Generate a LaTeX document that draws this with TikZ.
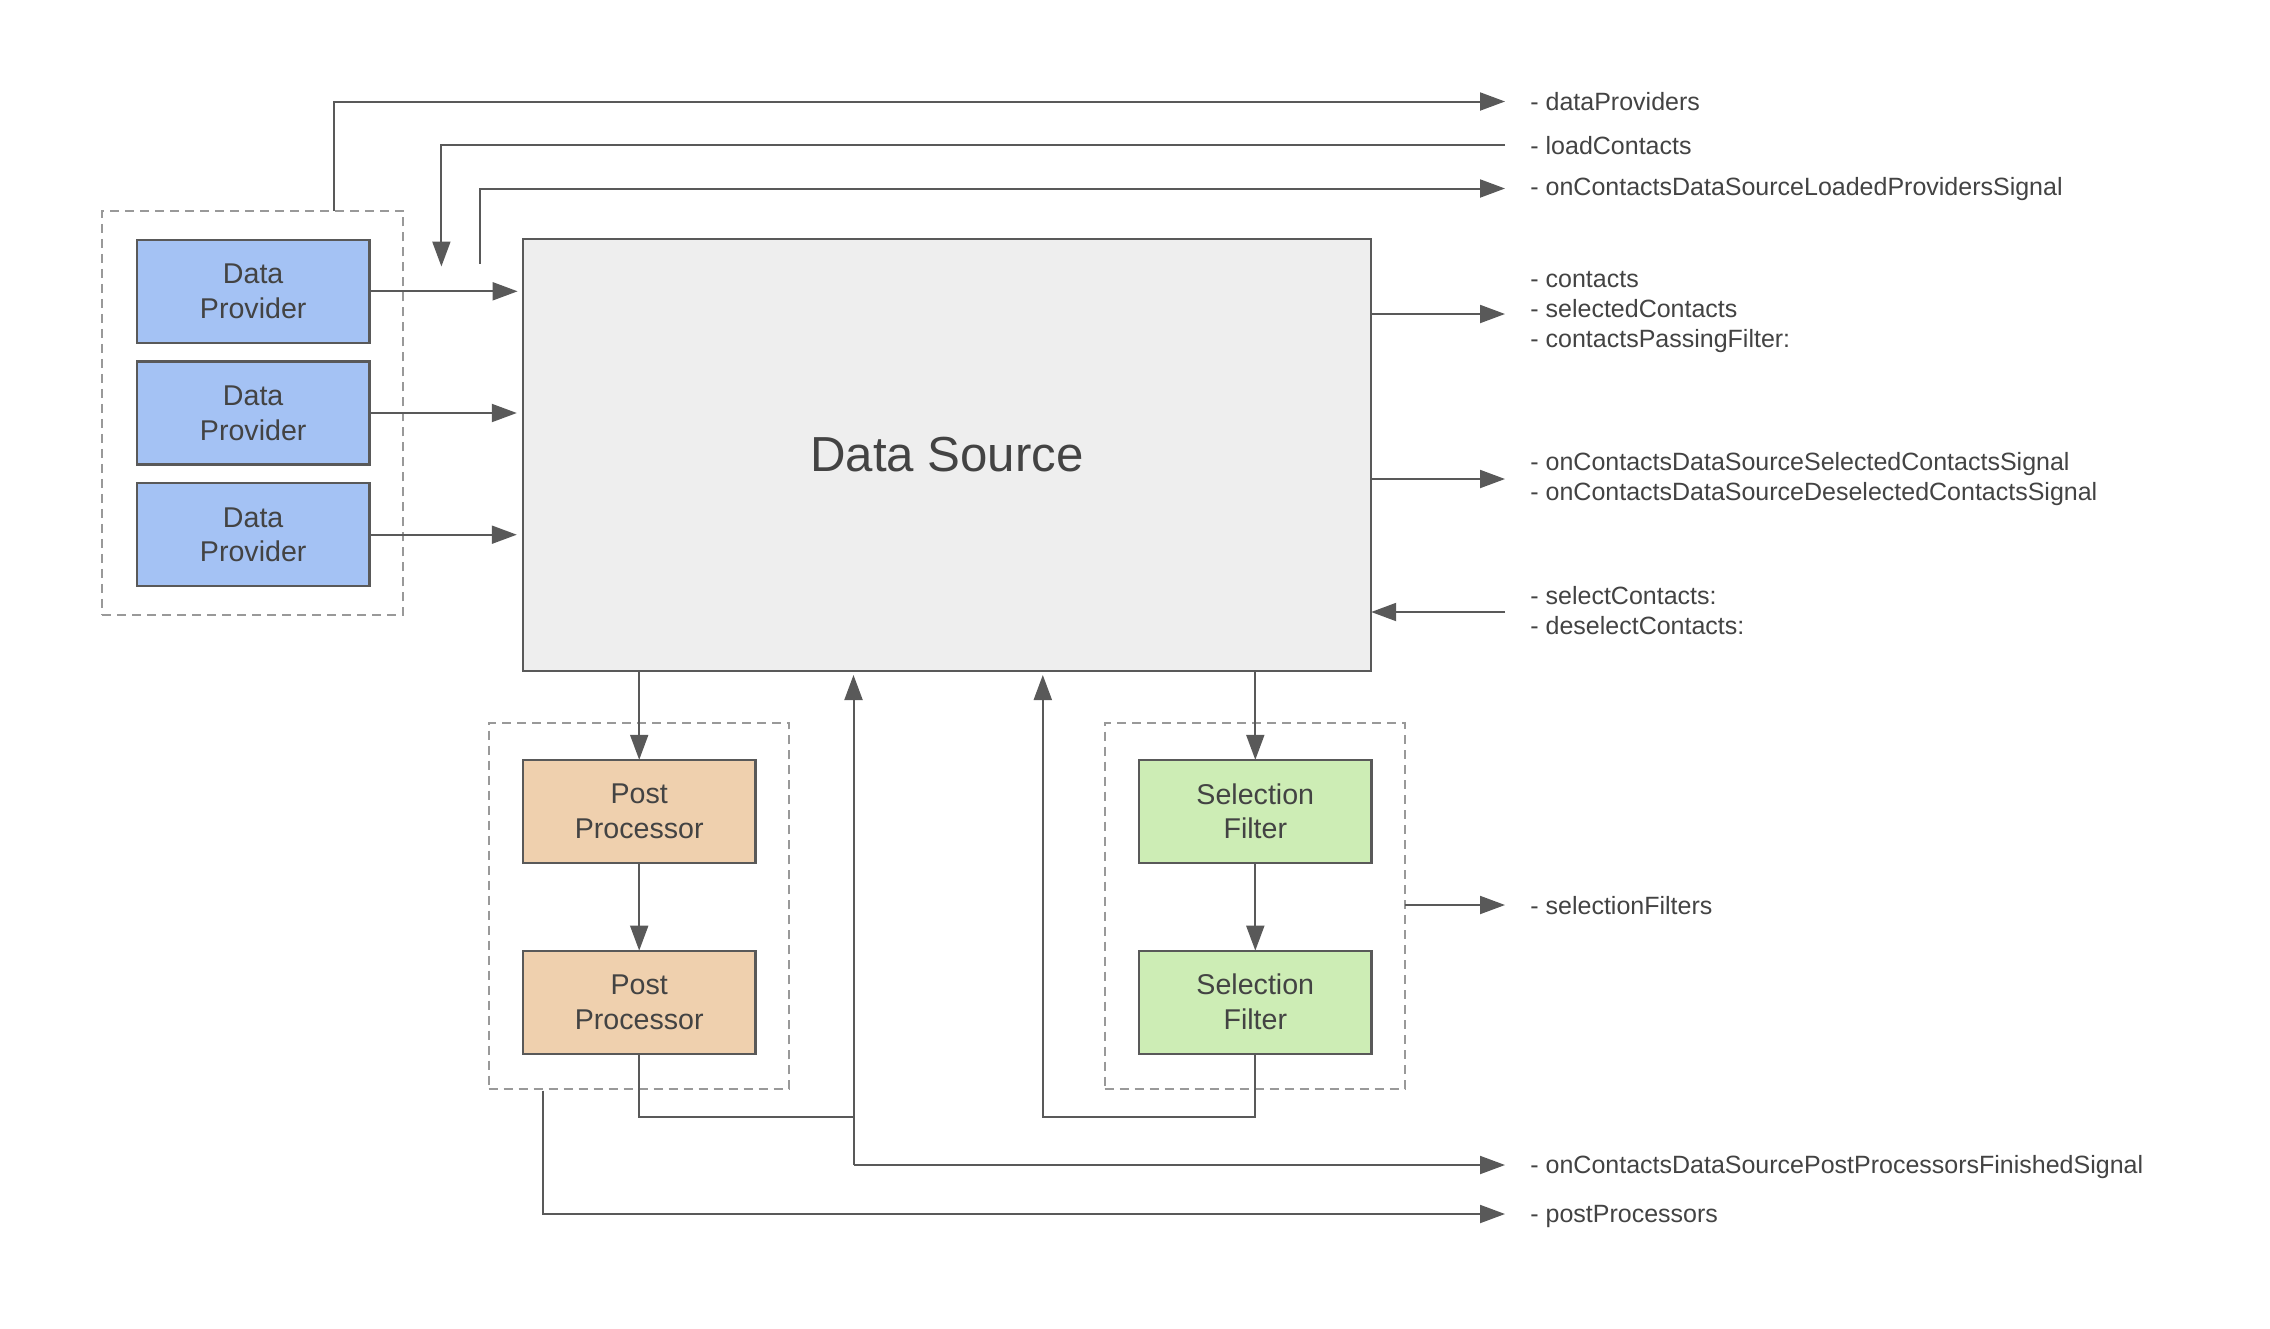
\documentclass[tikz,border=0pt]{standalone}
\usepackage{fontspec}
\setmainfont{Liberation Sans}
\usetikzlibrary{arrows.meta,calc}
\definecolor{ln}{HTML}{595959}
\definecolor{tx}{HTML}{434343}
\definecolor{dashgray}{HTML}{999999}
\definecolor{dpblue}{HTML}{A4C2F4}
\definecolor{pporange}{HTML}{EFD0AE}
\definecolor{sfgreen}{HTML}{CDEDB5}
\definecolor{dsgray}{HTML}{EEEEEE}
\begin{document}
\begin{tikzpicture}[x=0.5pt,y=-0.5pt,
  box/.style={draw=ln, line width=1.1pt, text=tx, align=center, inner sep=0pt, outer sep=0pt,
    font=\fontsize{14.3pt}{17.4pt}\selectfont, minimum width=116.2pt, minimum height=51.5pt},
  group/.style={draw=dashgray, line width=1pt, dash pattern=on 4.5pt off 3pt, inner sep=0pt, outer sep=0pt},
  conn/.style={draw=ln, line width=1pt},
  arr/.style={conn, -{Triangle[length=12.5pt,width=9pt]}},
  lbl/.style={anchor=west, text=tx, align=left, inner sep=0pt, font=\fontsize{12.5pt}{14.8pt}\selectfont}
]
\useasboundingbox[fill=white] (0,0) rectangle (2270,1328);

% groups
\node[group, minimum width=150.5pt, minimum height=202.35pt] (gdp) at (252.5,413) {};
\node[group, minimum width=150.3pt, minimum height=182.95pt] (gpp) at (638.9,905.75) {};
\node[group, minimum width=150.05pt, minimum height=182.95pt] (gsf) at (1254.65,905.75) {};

% main boxes
\node[box, fill=dsgray, minimum width=424.2pt, minimum height=215.8pt,
  font=\fontsize{24.6pt}{29pt}\selectfont, text depth=-4pt] (ds) at (947,454.8) {Data Source};
\node[box, fill=dpblue] (dp1) at (253.2,291.3) {Data\\Provider};
\node[box, fill=dpblue] (dp2) at (253.2,413) {Data\\Provider};
\node[box, fill=dpblue] (dp3) at (253.2,534.7) {Data\\Provider};
\node[box, fill=pporange] (pp1) at (639.2,811.3) {Post\\Processor};
\node[box, fill=pporange] (pp2) at (639.2,1002.1) {Post\\Processor};
\node[box, fill=sfgreen] (sf1) at (1255.3,811.3) {Selection\\Filter};
\node[box, fill=sfgreen] (sf2) at (1255.3,1002.1) {Selection\\Filter};

% free ends
\coordinate (t1) at (1505,101.5);
\coordinate (t2) at (1505,145);
\coordinate (t3) at (1505,188.5);
\coordinate (t4) at (1505,314);
\coordinate (t5) at (1505,479);
\coordinate (t6) at (1505,612);
\coordinate (t7) at (1505,905);
\coordinate (t8) at (1505,1165);
\coordinate (t9) at (1505,1214);
\coordinate (c2) at (441.4,266.5);
\coordinate (c3) at (480.3,263.5);
\coordinate (j1) at (853.5,1116.7);
\coordinate (k1) at (853.5,1165);
\coordinate (j2) at (1042.8,1116.7);

% labels
\node[lbl] (l1) at (1530,102) {- dataProviders};
\node[lbl] (l2) at (1530,145.5) {- loadContacts};
\node[lbl] (l3) at (1530,189.5) {- onContactsDataSourceLoadedProvidersSignal};
\node[lbl] (l4) at (1530,312) {- contacts\\- selectedContacts\\- contactsPassingFilter:};
\node[lbl] (l5) at (1530,479) {- onContactsDataSourceSelectedContactsSignal\\- onContactsDataSourceDeselectedContactsSignal};
\node[lbl] (l6) at (1530,610.5) {- selectContacts:\\- deselectContacts:};
\node[lbl] (l7) at (1530,906) {- selectionFilters};
\node[lbl] (l8) at (1530,1167) {- onContactsDataSourcePostProcessorsFinishedSignal};
\node[lbl] (l9) at (1530,1216) {- postProcessors};

% connectors
\draw[arr] ([xshift=40.9pt]gdp.north) |- (t1);
\draw[arr] (t2) -| (c2);
\draw[arr] (c3) |- (t3);
\draw[arr] (ds.east |- t4) -- (t4);
\draw[arr] (ds.east |- t5) -- (t5);
\draw[arr] (t6) -- (ds.east |- t6);
\draw[arr, shorten >=2.6pt] (dp1.east) -- (dp1.east -| ds.west);
\draw[arr, shorten >=3pt] (dp2.east) -- (dp2.east -| ds.west);
\draw[arr, shorten >=3pt] (dp3.east) -- (dp3.east -| ds.west);
\draw[arr] (ds.south -| pp1.north) -- (pp1.north);
\draw[arr] (pp1.south) -- (pp2.north);
\draw[arr] (ds.south -| sf1.north) -- (sf1.north);
\draw[arr] (sf1.south) -- (sf2.north);
\draw[conn] (pp2.south) |- (j1);
\draw[arr, shorten >=2.2pt] (k1) -- (ds.south -| k1);
\draw[arr] (k1) -- (t8);
\draw[arr, shorten >=2.2pt] (sf2.south) |- (j2) -- (ds.south -| j2);
\draw[arr] (gsf.east |- t7) -- (t7);
\draw[arr] ([xshift=27.2pt,yshift=-1pt]gpp.south west) |- (t9);
\end{tikzpicture}
\end{document}
